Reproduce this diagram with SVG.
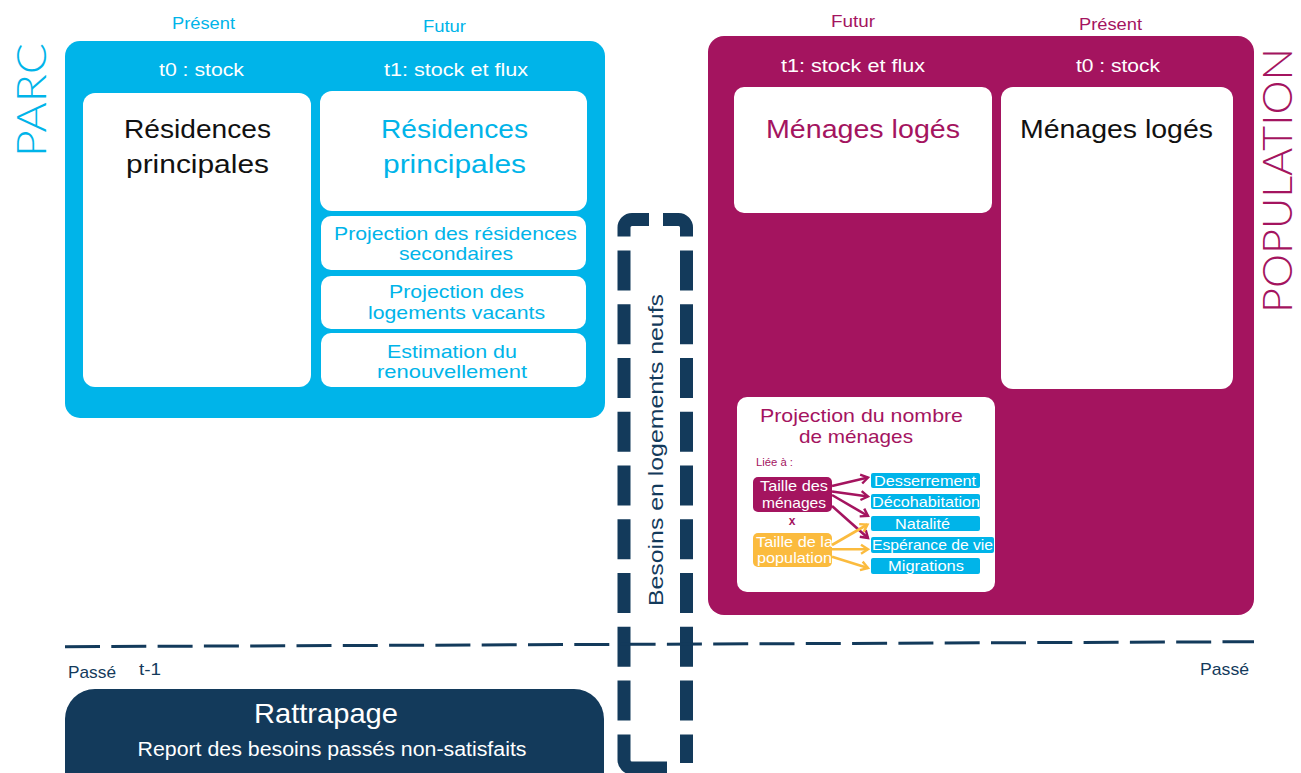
<svg xmlns="http://www.w3.org/2000/svg" width="1301" height="773" viewBox="0 0 1301 773">
<style>
text{font-family:'Liberation Sans',Arial,sans-serif;}
.c{fill:#00b4e9}
.m{fill:#a4145f}
.n{fill:#133a5b}
.w{fill:#ffffff}
.k{fill:#111111}
.mid{text-anchor:middle}
.big{font-size:41px;font-family:Lato,'Liberation Sans',sans-serif;font-weight:300}
.lbl{font-size:16px}
.hdr{font-size:18px}
.ttl{font-size:25px}
.sub{font-size:19px}
.sm{font-size:15px}
.box{fill:#ffffff}
.dash{fill:none;stroke:#133a5b;stroke-width:13;stroke-linecap:butt}
.arm{fill:none;stroke:#a4145f;stroke-width:2.6}
.ary{fill:none;stroke:#fbbb3e;stroke-width:2.6}
</style>
<defs>
<marker id="hm" markerUnits="userSpaceOnUse" markerWidth="12" markerHeight="12" refX="9" refY="6" orient="auto">
<path d="M2,1.5 L9,6 L2,10.5" fill="none" stroke="#a4145f" stroke-width="2.4"/>
</marker>
<marker id="hy" markerUnits="userSpaceOnUse" markerWidth="12" markerHeight="12" refX="9" refY="6" orient="auto">
<path d="M2,1.5 L9,6 L2,10.5" fill="none" stroke="#fbbb3e" stroke-width="2.4"/>
</marker>
</defs>

<!-- PARC -->
<g id="parc">
<text class="c big mid" transform="translate(46,100) rotate(-90)" textLength="114" lengthAdjust="spacingAndGlyphs">PARC</text>
<text class="c lbl mid" x="203.5" y="29" textLength="63" lengthAdjust="spacingAndGlyphs">Présent</text>
<text class="c lbl mid" x="444.5" y="31.5" textLength="43" lengthAdjust="spacingAndGlyphs">Futur</text>
<rect x="65" y="41" width="540" height="377" rx="15" fill="#00b4e9"/>
<text class="w hdr mid" x="201.5" y="76" textLength="85" lengthAdjust="spacingAndGlyphs">t0 : stock</text>
<text class="w hdr mid" x="456" y="76" textLength="144" lengthAdjust="spacingAndGlyphs">t1: stock et flux</text>
</g>
<g id="rp-t0">
<rect class="box" x="83" y="93" width="228" height="294" rx="12"/>
<text class="k ttl mid" x="197.5" y="138" textLength="147" lengthAdjust="spacingAndGlyphs">Résidences</text>
<text class="k ttl mid" x="197.5" y="173" textLength="143" lengthAdjust="spacingAndGlyphs">principales</text>
</g>
<g id="rp-t1">
<rect class="box" x="320" y="91" width="267" height="120" rx="12"/>
<text class="c ttl mid" x="454.5" y="138" textLength="147" lengthAdjust="spacingAndGlyphs">Résidences</text>
<text class="c ttl mid" x="454.5" y="173" textLength="143" lengthAdjust="spacingAndGlyphs">principales</text>
</g>
<g id="rs">
<rect class="box" x="321" y="216" width="265" height="54" rx="10"/>
<text class="c sub mid" x="455.5" y="239.5" textLength="243" lengthAdjust="spacingAndGlyphs">Projection des résidences</text>
<text class="c sub mid" x="456" y="260" textLength="114" lengthAdjust="spacingAndGlyphs">secondaires</text>
</g>
<g id="lv">
<rect class="box" x="321" y="276" width="265" height="53" rx="10"/>
<text class="c sub mid" x="456.5" y="298" textLength="135" lengthAdjust="spacingAndGlyphs">Projection des</text>
<text class="c sub mid" x="456.5" y="319" textLength="177" lengthAdjust="spacingAndGlyphs">logements vacants</text>
</g>
<g id="ren">
<rect class="box" x="321" y="333" width="265" height="54" rx="10"/>
<text class="c sub mid" x="452" y="357.5" textLength="130" lengthAdjust="spacingAndGlyphs">Estimation du</text>
<text class="c sub mid" x="452" y="378" textLength="150" lengthAdjust="spacingAndGlyphs">renouvellement</text>
</g>

<!-- POPULATION -->
<g id="population">
<text class="m big mid" transform="translate(1292,180.5) rotate(-90)" textLength="265" lengthAdjust="spacingAndGlyphs">POPULATION</text>
<text class="m lbl mid" x="853" y="27" textLength="44" lengthAdjust="spacingAndGlyphs">Futur</text>
<text class="m lbl mid" x="1110.5" y="30" textLength="63" lengthAdjust="spacingAndGlyphs">Présent</text>
<rect x="708" y="36" width="546" height="579" rx="16" fill="#a4145f"/>
<text class="w hdr mid" x="853" y="72" textLength="144" lengthAdjust="spacingAndGlyphs">t1: stock et flux</text>
<text class="w hdr mid" x="1118" y="72" textLength="84" lengthAdjust="spacingAndGlyphs">t0 : stock</text>
</g>
<g id="ml-t1">
<rect class="box" x="734" y="87" width="258" height="126" rx="10"/>
<text class="m ttl mid" x="863" y="138" textLength="194" lengthAdjust="spacingAndGlyphs">Ménages logés</text>
</g>
<g id="ml-t0">
<rect class="box" x="1001" y="87" width="232" height="302" rx="12"/>
<text class="k ttl mid" x="1116.5" y="138" textLength="193" lengthAdjust="spacingAndGlyphs">Ménages logés</text>
</g>
<g id="proj-menages">
<rect class="box" x="737" y="397" width="258" height="195" rx="10"/>
<text class="m sub mid" x="861.5" y="421.5" textLength="203" lengthAdjust="spacingAndGlyphs">Projection du nombre</text>
<text class="m sub mid" x="856" y="443" textLength="114" lengthAdjust="spacingAndGlyphs">de ménages</text>
<text class="m" x="756" y="466" font-size="11" textLength="37" lengthAdjust="spacingAndGlyphs">Liée à :</text>
<text class="m mid" x="792" y="525" font-size="12" font-weight="bold">x</text>
</g>
<g id="taille-menages">
<rect x="753" y="477" width="79" height="35" rx="5" fill="#a4145f"/>
<text class="w sm mid" x="794" y="491" textLength="68" lengthAdjust="spacingAndGlyphs">Taille des</text>
<text class="w sm mid" x="794" y="507.5" textLength="64" lengthAdjust="spacingAndGlyphs">ménages</text>
</g>
<g id="taille-pop">
<rect x="753" y="533" width="79" height="34" rx="5" fill="#fbbb3e"/>
<text class="w sm mid" x="794.5" y="546.5" textLength="77" lengthAdjust="spacingAndGlyphs">Taille de la</text>
<text class="w sm mid" x="794.5" y="562.5" textLength="75" lengthAdjust="spacingAndGlyphs">population</text>
</g>
<g id="desserrement">
<rect x="871" y="473" width="109" height="15" rx="2" fill="#00b4e9"/>
<text class="w sm mid" x="925" y="486" textLength="102" lengthAdjust="spacingAndGlyphs">Desserrement</text>
</g>
<g id="decohabitation">
<rect x="871" y="494" width="109" height="15" rx="2" fill="#00b4e9"/>
<text class="w sm mid" x="926" y="507" textLength="108" lengthAdjust="spacingAndGlyphs">Décohabitation</text>
</g>
<g id="natalite">
<rect x="871" y="516" width="109" height="15" rx="2" fill="#00b4e9"/>
<text class="w sm mid" x="922.5" y="528.5" textLength="55" lengthAdjust="spacingAndGlyphs">Natalité</text>
</g>
<g id="esperance">
<rect x="871" y="537" width="123" height="16" rx="2" fill="#00b4e9"/>
<text class="w sm mid" x="932.5" y="550" textLength="121" lengthAdjust="spacingAndGlyphs">Espérance de vie</text>
</g>
<g id="migrations">
<rect x="871" y="558" width="109" height="16" rx="2" fill="#00b4e9"/>
<text class="w sm mid" x="926" y="570.5" textLength="76" lengthAdjust="spacingAndGlyphs">Migrations</text>
</g>

<!-- Besoins en logements neufs -->
<g id="besoins">
<path class="dash" d="M649,219.5 H632 A8,8 0 0 0 624,227.5 V236.5"/>
<path class="dash" d="M663,219.5 H678.5 A8,8 0 0 1 686.5,227.5 V236.5"/>
<path class="dash" stroke-dasharray="40 13.75" d="M624,250.5 V722"/>
<path class="dash" stroke-dasharray="40 13.75" d="M686.5,250.5 V722"/>
<path class="dash" d="M624,734.5 V760 A8,8 0 0 0 632,768 H667"/>
<path class="dash" d="M686.5,734.5 V763"/>
<text class="n mid" font-size="21" transform="translate(663,450) rotate(-90)" textLength="312" lengthAdjust="spacingAndGlyphs">Besoins en logements neufs</text>
</g>

<!-- Passé / Rattrapage -->
<g id="passe">
<text class="n" x="68" y="677.5" font-size="17" textLength="48" lengthAdjust="spacingAndGlyphs">Passé</text>
<text class="n" x="139" y="675" font-size="16" textLength="22" lengthAdjust="spacingAndGlyphs">t-1</text>
<text class="n" x="1200" y="675" font-size="17" textLength="49" lengthAdjust="spacingAndGlyphs">Passé</text>
</g>
<g id="rattrapage">
<rect x="65" y="689" width="539" height="130" rx="30" fill="#133a5b"/>
<text class="w mid" x="326" y="723" font-size="28" textLength="144" lengthAdjust="spacingAndGlyphs">Rattrapage</text>
<text class="w mid" x="332" y="755.5" font-size="19.5" textLength="389" lengthAdjust="spacingAndGlyphs">Report des besoins passés non-satisfaits</text>
</g>

<!-- connectors -->
<g id="connectors">
<line x1="65" y1="646.7" x2="1254" y2="641.7" stroke="#133a5b" stroke-width="3" stroke-dasharray="35 11.3"/>
<line class="arm" x1="832" y1="486" x2="868" y2="477.5" marker-end="url(#hm)"/>
<line class="arm" x1="832" y1="491.5" x2="868" y2="496.5" marker-end="url(#hm)"/>
<line class="arm" x1="832" y1="495" x2="868" y2="516" marker-end="url(#hm)"/>
<line class="arm" x1="832" y1="506" x2="868" y2="538" marker-end="url(#hm)"/>
<line class="ary" x1="832" y1="545" x2="867.5" y2="524.5" marker-end="url(#hy)"/>
<line class="ary" x1="832" y1="549.3" x2="868" y2="549.3" marker-end="url(#hy)"/>
<line class="ary" x1="832" y1="556.7" x2="868" y2="568" marker-end="url(#hy)"/>
</g>
</svg>
